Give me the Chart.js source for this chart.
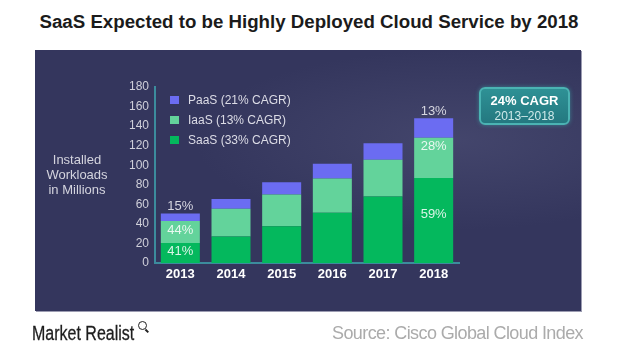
<!DOCTYPE html>
<html>
<head>
<meta charset="utf-8">
<script src="https://cdn.jsdelivr.net/npm/chart.js@4.4.0/dist/chart.umd.min.js"></script>
<style>
  html, body { margin: 0; padding: 0; background: #ffffff; }
  #wrap { position: relative; width: 628px; height: 357px; overflow: hidden; font-family: "Liberation Sans", Arial, sans-serif; }
  #title { position: absolute; left: 0; width: 618px; top: 11px; text-align: center; font-weight: bold; font-size: 18.7px; color: #1b1b1b; white-space: nowrap; }
  #panel { position: absolute; left: 35px; top: 50px; width: 546px; height: 261px;
           background: radial-gradient(ellipse 260px 90px at 420px 90px, rgba(80,82,120,0.55), rgba(80,82,120,0) 100%), #34365d;
           box-shadow: 1px 1px 0 #9c9cb2; }
  canvas { position: absolute; left: 0; top: 0; }
  #ytitle { position: absolute; left: 37px; width: 80px; top: 152px; text-align: center; font-size: 13px; line-height: 15px; color: #d4d4de; }
  #legend { position: absolute; left: 170px; top: 92px; }
  .li { position: relative; height: 20px; line-height: 16px; font-size: 12px; color: #dcdce6; white-space: nowrap; }
  .sw { position: absolute; left: 0; top: 4px; width: 9px; height: 8px; }
  .lt { position: absolute; left: 18px; top: 0; }
  #cagr { position: absolute; left: 479px; top: 87px; width: 87px; height: 34px; border: 2px solid #4bb3b3; border-radius: 6px;
          background: linear-gradient(#2e9195, #247880); box-shadow: 0 0 4px rgba(60,170,170,0.6); text-align: center; }
  #cagr .a { font-weight: bold; font-size: 13px; color: #ffffff; margin-top: 4px; line-height: 15px; }
  #cagr .b { font-size: 12px; color: #cfe9ea; line-height: 14px; margin-top: 1px; }
  #mr { position: absolute; left: 32px; top: 322px; font-size: 20px; color: #1e1e1e; transform: scaleX(0.8); transform-origin: 0 0; white-space: nowrap; -webkit-text-stroke: 0.3px #1e1e1e; }
  #mag { position: absolute; left: 138px; top: 321px; width: 7px; height: 7px; border: 1.6px solid #222; border-radius: 50%; }
  #mag:after { content: ""; position: absolute; left: 6px; top: 8px; width: 4px; height: 1.6px; background: #222; transform: rotate(45deg); }
  #src { position: absolute; right: 45px; top: 323px; font-size: 18px; letter-spacing: -0.6px; color: #ababab; }
</style>
</head>
<body>
<div id="wrap">
  <div id="title">SaaS Expected to be Highly Deployed Cloud Service by 2018</div>
  <div id="panel"></div>
  <canvas id="c" width="628" height="357"></canvas>
  <div id="ytitle">Installed<br>Workloads<br>in Millions</div>
  <div id="legend"></div>
  <div id="cagr"><div class="a">24% CAGR</div><div class="b">2013–2018</div></div>
  <div id="mr">Market Realist</div>
  <div id="mag"></div>
  <div id="src">Source: Cisco Global Cloud Index</div>
</div>
<script>
// ---- data ----
const years = ['2013', '2014', '2015', '2016', '2017', '2018'];
const saasValues = [20.5, 27, 37.5, 51.5, 68, 87];
const iaasValues = [22.5, 28.5, 32.5, 35, 37.5, 41];
const paasValues = [7.5, 10, 12.5, 15, 17, 20];
const saasShareLabels = ['41%', '', '', '', '', '59%'];
const iaasShareLabels = ['44%', '', '', '', '', '28%'];
const paasShareLabels = ['15%', '', '', '', '', '13%'];
const seriesNames = ['PaaS (21% CAGR)', 'IaaS (13% CAGR)', 'SaaS (33% CAGR)'];
const yTicks = [0, 20, 40, 60, 80, 100, 120, 140, 160, 180];

const colPaaS = '#6b6cf2';
const colIaaS = '#63d39b';
const colSaaS = '#04b85d';

// HTML legend
const legendItems = [[seriesNames[0], colPaaS], [seriesNames[1], colIaaS], [seriesNames[2], colSaaS]];
const lg = document.getElementById('legend');
legendItems.forEach(([t, c]) => {
  const d = document.createElement('div'); d.className = 'li';
  d.innerHTML = '<span class="sw" style="background:' + c + '"></span><span class="lt"></span>';
  d.querySelector('.lt').textContent = t;
  lg.appendChild(d);
});

const shareLabelPlugin = {
  id: 'shareLabels',
  afterDatasetsDraw(chart) {
    const ctx = chart.ctx;
    ctx.save();
    ctx.font = '13px "Liberation Sans", Arial, sans-serif';
    ctx.textAlign = 'center';
    ctx.textBaseline = 'middle';
    chart.data.datasets.forEach((ds, i) => {
      const meta = chart.getDatasetMeta(i);
      meta.data.forEach((el, j) => {
        const txt = ds.shareLabels[j];
        if (!txt) return;
        let y;
        if (ds.key === 'paas') { y = el.y - 7; ctx.fillStyle = '#d6d6e0'; }
        else if (ds.key === 'iaas') { y = el.y + 9; ctx.fillStyle = 'rgba(255,255,255,0.85)'; }
        else { y = el.y + (el.base - el.y) * 0.43; ctx.fillStyle = 'rgba(255,255,255,0.85)'; }
        ctx.fillText(txt, el.x, y);
      });
    });
    ctx.restore();
  }
};

new Chart(document.getElementById('c'), {
  type: 'bar',
  data: {
    labels: years,
    datasets: [
      { key: 'saas', label: seriesNames[2], data: saasValues, backgroundColor: colSaaS, shareLabels: saasShareLabels, barPercentage: 0.77, categoryPercentage: 1 },
      { key: 'iaas', label: seriesNames[1], data: iaasValues, backgroundColor: colIaaS, shareLabels: iaasShareLabels, barPercentage: 0.77, categoryPercentage: 1 },
      { key: 'paas', label: seriesNames[0], data: paasValues, backgroundColor: colPaaS, shareLabels: paasShareLabels, barPercentage: 0.77, categoryPercentage: 1 }
    ]
  },
  options: {
    responsive: false,
    devicePixelRatio: 1,
    animation: false,
    layout: { padding: { left: 115, top: 87, right: 169, bottom: 64 } },
    plugins: { legend: { display: false }, tooltip: { enabled: false } },
    scales: {
      x: {
        stacked: true,
        grid: { display: false, drawTicks: false },
        border: { display: true, color: '#3c8c9d', width: 2 },
        ticks: { color: '#ffffff', padding: 4, font: { family: '"Liberation Sans", Arial, sans-serif', size: 13, weight: 'bold' } },
        afterFit(s) { s.height = 30; }
      },
      y: {
        stacked: true,
        min: 0, max: 180,
        afterBuildTicks(s) { s.ticks = yTicks.map(v => ({ value: v })); },
        grid: { display: false, drawTicks: false },
        border: { display: true, color: '#3c8c9d', width: 2 },
        ticks: { color: '#d0d0da', padding: 6, font: { family: '"Liberation Sans", Arial, sans-serif', size: 12 } },
        afterFit(s) { s.width = 40; }
      }
    }
  },
  plugins: [shareLabelPlugin]
});
</script>
</body>
</html>
